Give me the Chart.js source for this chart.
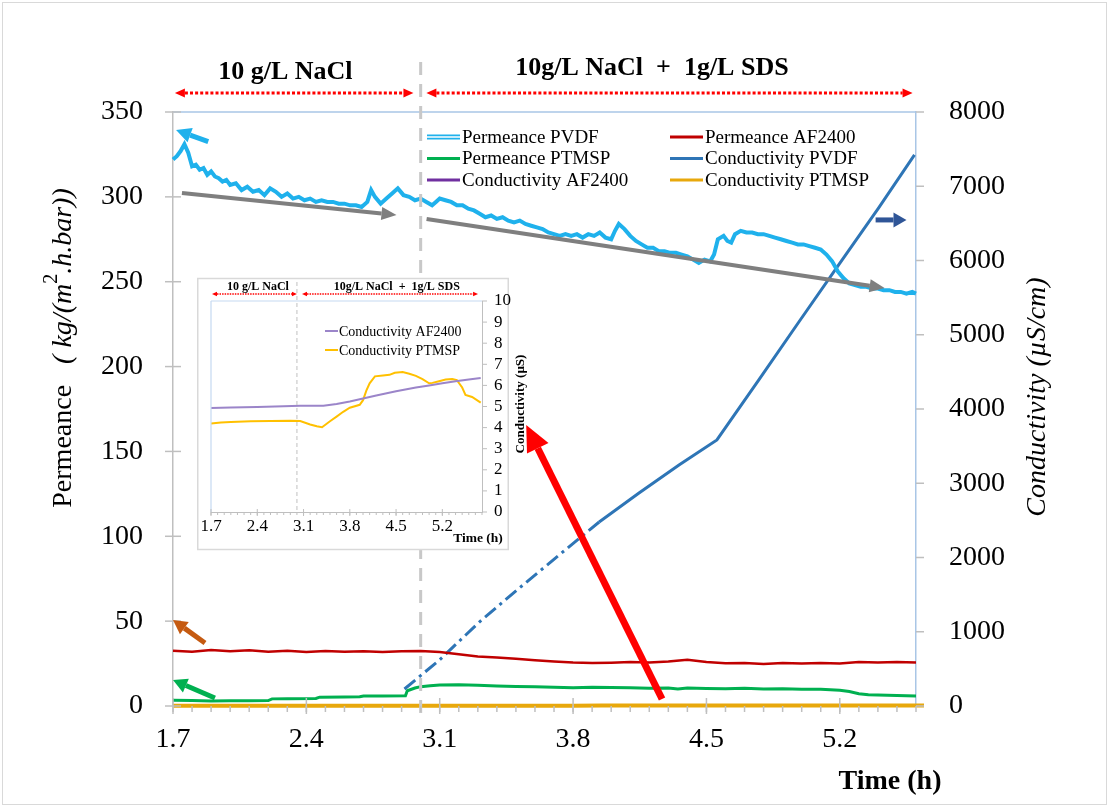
<!DOCTYPE html>
<html>
<head>
<meta charset="utf-8">
<script src="https://cdn.jsdelivr.net/npm/chart.js@4.4.1/dist/chart.umd.min.js"></script>
<style>
  html,body{margin:0;padding:0;background:#fff;}
  #wrap{position:relative;width:1109px;height:807px;}
  #main{position:absolute;left:0;top:0;}
  #inset{position:absolute;left:197px;top:276px;}
</style>
</head>
<body>
<div id="wrap">
  <canvas id="main" width="1109" height="807"></canvas>
  <canvas id="inset" width="340" height="280"></canvas>
</div>
<script>
// ---- data (time in h) ----
const xTicks = [1.7, 2.4, 3.1, 3.8, 4.5, 5.2];
const sdsStart = 3.0;          // SDS added to the feed
const dashUntil = 3.8;         // sparse logging of PVDF conductivity before this

const pvdfTime = [1.70,1.72,1.74,1.76,1.78,1.80,1.82,1.84,1.86,1.88,1.90,1.92,1.94,1.96,1.98,2.00,2.03,2.06,2.09,2.12,2.15,2.18,2.21,2.24,2.27,2.30,2.33,2.36,2.39,2.42,2.45,2.48,2.51,2.54,2.57,2.60,2.63,2.66,2.69,2.72,2.74,2.76,2.79,2.82,2.85,2.88,2.91,2.94,2.97,3.00,3.03,3.06,3.08,3.10,3.13,3.16,3.19,3.22,3.25,3.28,3.31,3.34,3.37,3.40,3.43,3.46,3.49,3.52,3.55,3.58,3.61,3.64,3.67,3.70,3.73,3.76,3.79,3.82,3.85,3.88,3.91,3.94,3.97,4.00,4.02,4.04,4.07,4.10,4.13,4.16,4.19,4.22,4.25,4.28,4.31,4.34,4.37,4.40,4.43,4.46,4.49,4.52,4.54,4.56,4.59,4.61,4.63,4.65,4.68,4.71,4.74,4.77,4.80,4.83,4.86,4.89,4.92,4.95,4.98,5.01,5.04,5.07,5.10,5.13,5.16,5.19,5.22,5.25,5.28,5.31,5.34,5.37,5.40,5.43,5.46,5.49,5.52,5.55,5.58,5.60];
const pvdfPerm = [322,324,327,331,326,318,319,316,317,313,315,312,311,309,310,307,308,304,306,303,304,301,305,303,300,302,299,300,298,299,297,298,297,297,296,296,295,295,294,297,304,300,296,299,302,305,301,300,298,299,297,295,297,299,298,297,295,295,293,292,290,288,289,287,288,286,285,286,284,283,282,281,279,278,277,278,277,278,276,278,277,279,276,275,280,284,281,277,274,272,270,270,268,268,267,267,266,265,263,261,263,262,266,275,277,274,273,278,280,279,279,278,278,277,276,275,274,273,272,272,271,270,269,266,262,256,252,249,248,247,247,246,246,245,245,244,244,243,244,243];

const af2400PermTime = [1.7,1.8,1.9,2.0,2.1,2.2,2.3,2.4,2.5,2.6,2.7,2.8,2.9,3.0,3.1,3.2,3.3,3.4,3.5,3.6,3.7,3.8,3.9,4.0,4.1,4.2,4.3,4.4,4.5,4.6,4.7,4.8,4.9,5.0,5.1,5.2,5.3,5.4,5.5,5.6];
const af2400Perm = [32.5,32.0,33.0,32.3,32.8,32.0,32.6,31.8,32.4,31.9,32.3,31.8,32.2,32.4,31.8,30.5,29.2,28.6,27.8,27.0,26.2,25.6,25.3,25.5,25.9,25.6,26.2,27.2,25.9,25.2,25.4,24.8,25.3,25.0,25.4,25.1,25.9,25.6,25.9,25.7];

const ptmspPermTime = [1.7,1.8,1.9,2.0,2.1,2.2,2.22,2.3,2.45,2.47,2.6,2.68,2.7,2.8,2.92,2.93,2.97,3.0,3.05,3.1,3.2,3.3,3.4,3.5,3.6,3.7,3.8,3.9,4.0,4.1,4.2,4.3,4.35,4.4,4.5,4.6,4.7,4.8,4.9,5.0,5.1,5.2,5.25,5.3,5.35,5.45,5.55,5.6];
const ptmspPerm = [3.4,3.2,3.0,3.1,3.1,3.2,4.2,4.3,4.4,5.2,5.3,5.4,5.9,5.9,6.0,9.0,10.6,11.4,12.0,12.4,12.5,12.2,11.8,11.5,11.4,11.0,10.8,11.0,10.9,10.7,10.5,10.6,10.0,10.6,10.3,10.2,10.4,10.0,10.1,9.9,9.8,9.3,8.5,7.2,6.6,6.3,6.0,5.9];

const pvdfCondTime = [2.915,3.099,3.308,3.518,3.727,3.937,4.146,4.356,4.555,4.775,4.985,5.194,5.404,5.592];
const pvdfCond = [229,620,1131,1589,2034,2478,2869,3246,3583,4391,5172,5940,6708,7422];

const af2400CondTime = [1.7,2.0,2.4,2.8,3.05,3.4,3.6,3.8,4.0,4.2,4.5,4.8,5.0,5.2,5.4,5.6,5.78];
const af2400Cond = [4.93,4.95,4.98,5.01,5.04,5.04,5.12,5.24,5.38,5.52,5.72,5.90,6.00,6.10,6.20,6.28,6.35];

const ptmspCondTime = [1.7,1.85,2.0,2.3,2.6,2.9,3.05,3.2,3.3,3.38,3.5,3.6,3.7,3.8,3.95,4.0,4.05,4.1,4.18,4.3,4.4,4.48,4.6,4.7,4.8,4.9,5.0,5.05,5.15,5.25,5.35,5.42,5.5,5.55,5.65,5.78];
const ptmspCond = [4.19,4.24,4.27,4.30,4.31,4.32,4.31,4.15,4.06,4.02,4.30,4.52,4.75,4.94,5.08,5.30,5.75,6.10,6.43,6.47,6.50,6.60,6.63,6.55,6.45,6.30,6.10,6.12,6.20,6.28,6.30,6.25,5.90,5.55,5.45,5.18];

// ---- helpers ----
const SERIF = '"Liberation Serif", "Times New Roman", serif';
const xy = (ts, vs) => ts.map((t, i) => ({ x: t, y: vs[i] }));

function arrow(ctx, x0, y0, x1, y1, color, width, headLen, headW) {
  const a = Math.atan2(y1 - y0, x1 - x0);
  const bx = x1 - headLen * Math.cos(a), by = y1 - headLen * Math.sin(a);
  ctx.save();
  ctx.strokeStyle = color; ctx.fillStyle = color; ctx.lineWidth = width;
  ctx.beginPath(); ctx.moveTo(x0, y0); ctx.lineTo(bx, by); ctx.stroke();
  ctx.beginPath();
  ctx.moveTo(x1, y1);
  ctx.lineTo(bx + headW / 2 * Math.sin(a), by - headW / 2 * Math.cos(a));
  ctx.lineTo(bx - headW / 2 * Math.sin(a), by + headW / 2 * Math.cos(a));
  ctx.closePath(); ctx.fill();
  ctx.restore();
}

// red dotted line with an arrow head at both ends
function dottedSpan(ctx, x0, x1, y, lw, head) {
  ctx.save();
  ctx.strokeStyle = '#ff0000'; ctx.fillStyle = '#ff0000'; ctx.lineWidth = lw;
  ctx.setLineDash([lw, lw * 0.7]);
  ctx.beginPath(); ctx.moveTo(x0 + head, y); ctx.lineTo(x1 - head, y); ctx.stroke();
  ctx.setLineDash([]);
  [[x0, 1], [x1, -1]].forEach(([x, d]) => {
    ctx.beginPath(); ctx.moveTo(x, y);
    ctx.lineTo(x + d * head, y - head * 0.45); ctx.lineTo(x + d * head, y + head * 0.45);
    ctx.closePath(); ctx.fill();
  });
  ctx.restore();
}

// rotated (bottom-to-top) text made of several runs
function vText(ctx, runs, x, yc) {
  ctx.save();
  let total = 0;
  runs.forEach(r => { ctx.font = r.font; r.w = ctx.measureText(r.text).width; total += r.w; });
  ctx.translate(x, yc); ctx.rotate(-Math.PI / 2);
  ctx.fillStyle = '#000'; ctx.textBaseline = 'alphabetic'; ctx.textAlign = 'left';
  let p = -total / 2;
  runs.forEach(r => { ctx.font = r.font; ctx.fillText(r.text, p, r.dy || 0); p += r.w; });
  ctx.restore();
}

function line(ctx, x0, y0, x1, y1, color, w, dash) {
  ctx.save(); ctx.strokeStyle = color; ctx.lineWidth = w;
  if (dash) ctx.setLineDash(dash);
  ctx.beginPath(); ctx.moveTo(x0, y0); ctx.lineTo(x1, y1); ctx.stroke();
  ctx.restore();
}

// annotation arrows, in data units of x / left y
const mainArrows = [
  { from: [1.885, 332.5], to: [1.716, 339.4], color: '#1fb1ec', w: 5, head: 15, hw: 15 },
  { from: [1.747, 302.3], to: [2.873, 289.3], color: '#7f7f7f', w: 4, head: 15, hw: 13 },
  { from: [3.031, 287.0], to: [5.435, 246.3], color: '#7f7f7f', w: 4, head: 15, hw: 13 },
  { from: [5.388, 286.4], to: [5.550, 286.4], color: '#2f5597', w: 5, head: 13, hw: 15 },
  { from: [1.868, 37.1], to: [1.700, 50.7], color: '#c55a11', w: 5, head: 14, hw: 15 },
  { from: [1.920, 4.7], to: [1.700, 15.3], color: '#00b050', w: 5, head: 14, hw: 15 },
  { from: [4.267, 4.1], to: [3.554, 165.6], color: '#ff0000', w: 7, head: 26, hw: 24 }
];

// ---- main chart decorations ----
const mainDecor = {
  id: 'mainDecor',
  afterDraw(chart) {
    const { ctx, chartArea: ca, scales: { x, y, y1 } } = chart;
    // outer frame
    ctx.save(); ctx.strokeStyle = '#d9d9d9'; ctx.lineWidth = 1;
    ctx.strokeRect(2.5, 2.5, 1104, 802); ctx.restore();

    // top border of the plot
    line(ctx, ca.left, ca.top, ca.right, ca.top, '#a9c6e6', 1.5);

    // SDS switch marker
    const xs = x.getPixelForValue(sdsStart);
    line(ctx, xs, ca.top - 50, xs, ca.bottom + 10, '#c8c8c8', 3, [13, 9]);

    // feed conditions above the plot
    dottedSpan(ctx, x.getPixelForValue(1.71), x.getPixelForValue(2.962), ca.top - 19, 3, 10);
    dottedSpan(ctx, x.getPixelForValue(3.03), x.getPixelForValue(5.582), ca.top - 19, 3, 10);
    ctx.save();
    ctx.fillStyle = '#000'; ctx.textAlign = 'center'; ctx.textBaseline = 'middle';
    ctx.font = 'bold 26px ' + SERIF;
    ctx.fillText('10 g/L NaCl', x.getPixelForValue(2.29), ca.top - 40);
    ctx.fillText('10g/L NaCl  +  1g/L SDS', x.getPixelForValue(4.214), ca.top - 44);
    ctx.restore();

    // tick marks
    const tc = '#bfbfbf';
    y.ticks.forEach(t => { const p = y.getPixelForValue(t.value); line(ctx, ca.left - 8, p, ca.left + 8, p, tc, 1.5); });
    y1.ticks.forEach(t => { const p = y1.getPixelForValue(t.value); line(ctx, ca.right, p, ca.right + 8, p, tc, 1.5); });
    for (let k = 17; k <= 56; k++) {
      const p = x.getPixelForValue(k / 10);
      line(ctx, p, ca.bottom, p, ca.bottom + 6, tc, 1.5);
    }
    xTicks.forEach(v => { const p = x.getPixelForValue(v); line(ctx, p, ca.bottom - 8, p, ca.bottom + 8, tc, 1.5); });

    // legend, two columns
    ctx.save();
    ctx.font = '19px ' + SERIF; ctx.textBaseline = 'middle'; ctx.fillStyle = '#000';
    chart.data.datasets.forEach((ds, i) => {
      const lx = ca.left + (i % 2 ? 497 : 254), ly = ca.top + 25 + Math.floor(i / 2) * 21.5;
      if (i === 0) {
        line(ctx, lx, ly, lx + 33, ly, ds.borderColor, 5);
        line(ctx, lx, ly, lx + 33, ly, '#ffffff', 1.5);
      } else {
        line(ctx, lx, ly, lx + 33, ly, ds.borderColor, 3);
      }
      ctx.fillText(ds.label, lx + 35, ly + 1);
    });
    ctx.restore();

    // axis titles
    const it = 'italic 28px ' + SERIF;
    vText(ctx, [
      { text: 'Permeance', font: '28px ' + SERIF },
      { text: '   ( kg/(m', font: it },
      { text: '2', font: '20px ' + SERIF, dy: -14 },
      { text: '.h.bar))', font: it }
    ], 71, 348);
    vText(ctx, [{ text: 'Conductivity (\u00b5S/cm)', font: it }], 1045, 397);
    ctx.save();
    ctx.font = 'bold 28px ' + SERIF; ctx.fillStyle = '#000'; ctx.textAlign = 'center';
    ctx.fillText('Time (h)', 890, 789);
    ctx.restore();

    // annotation arrows
    mainArrows.forEach(a => arrow(ctx,
      x.getPixelForValue(a.from[0]), y.getPixelForValue(a.from[1]),
      x.getPixelForValue(a.to[0]), y.getPixelForValue(a.to[1]),
      a.color, a.w, a.head, a.hw));
  }
};

const tickFont = { family: SERIF, size: 28 };

new Chart(document.getElementById('main'), {
  type: 'line',
  data: {
    datasets: [
      { label: 'Permeance PVDF', data: xy(pvdfTime, pvdfPerm), borderColor: '#1fb1ec', borderWidth: 4, yAxisID: 'y' },
      { label: 'Permeance AF2400', data: xy(af2400PermTime, af2400Perm), borderColor: '#c00000', borderWidth: 2.5, yAxisID: 'y' },
      { label: 'Permeance PTMSP', data: xy(ptmspPermTime, ptmspPerm), borderColor: '#00b050', borderWidth: 3, yAxisID: 'y' },
      { label: 'Conductivity PVDF', data: xy(pvdfCondTime, pvdfCond), borderColor: '#2e75b6', borderWidth: 3, yAxisID: 'y1',
        segment: { borderDash: c => c.p0.parsed.x < dashUntil ? [14, 5, 3, 5] : undefined } },
      { label: 'Conductivity AF2400', data: xy(af2400CondTime, af2400Cond), borderColor: '#7030a0', borderWidth: 2.5, yAxisID: 'y1' },
      { label: 'Conductivity PTMSP', data: xy(ptmspCondTime, ptmspCond), borderColor: '#e8a80c', borderWidth: 4, yAxisID: 'y1', order: -1 }
    ]
  },
  options: {
    responsive: false,
    animation: false,
    layout: { padding: { top: 112 } },
    elements: { point: { radius: 0 }, line: { tension: 0 } },
    datasets: { line: { clip: 8 } },
    scales: {
      x: {
        type: 'linear', min: 1.7, max: 5.6,
        afterFit: s => { s.height = 101; },
        afterBuildTicks: s => { s.ticks = xTicks.map(v => ({ value: v })); },
        grid: { display: false },
        border: { color: '#bfbfbf', width: 1.5 },
        ticks: { padding: 9, color: '#000', font: tickFont, maxRotation: 0, autoSkip: false,
                 callback: v => Number(v).toFixed(1) }
      },
      y: {
        position: 'left', min: 0, max: 350,
        afterFit: s => { s.width = 173; },
        grid: { display: false },
        border: { color: '#bfbfbf', width: 1.5 },
        ticks: { stepSize: 50, padding: 22, color: '#000', font: tickFont, autoSkip: false }
      },
      y1: {
        position: 'right', min: 0, max: 8000,
        afterFit: s => { s.width = 193; },
        grid: { display: false },
        border: { color: '#a9c6e6', width: 1.5 },
        ticks: { stepSize: 1000, padding: 25, color: '#000', font: tickFont, autoSkip: false, callback: v => String(v) }
      }
    },
    plugins: { legend: { display: false }, tooltip: { enabled: false } }
  },
  plugins: [mainDecor]
});

// ---- inset: low conductivity of the dense membranes ----
const insetDecor = {
  id: 'insetDecor',
  beforeDraw(chart) {
    const ctx = chart.ctx;
    ctx.save();
    ctx.fillStyle = '#fff'; ctx.fillRect(0, 2, 311, 272);
    ctx.strokeStyle = '#d9d9d9'; ctx.lineWidth = 1.5; ctx.strokeRect(0.75, 2.5, 310.5, 271);
    ctx.restore();
  },
  afterDraw(chart) {
    const { ctx, chartArea: ca, scales: { x, y } } = chart;
    line(ctx, ca.left, ca.top, ca.right, ca.top, '#c5d9f1', 1.2);
    line(ctx, ca.left, ca.top, ca.left, ca.bottom, '#c5d9f1', 1.2);

    const xs = x.getPixelForValue(sdsStart);
    line(ctx, xs, 6, xs, ca.bottom, '#c0c0c0', 1, [4, 3]);

    dottedSpan(ctx, x.getPixelForValue(1.715), x.getPixelForValue(3.0), 18, 1.5, 5);
    dottedSpan(ctx, x.getPixelForValue(3.077), x.getPixelForValue(5.74), 18, 1.5, 5);
    ctx.save();
    ctx.fillStyle = '#000'; ctx.textAlign = 'center'; ctx.textBaseline = 'middle';
    ctx.font = 'bold 12px ' + SERIF;
    ctx.fillText('10 g/L NaCl', x.getPixelForValue(2.41), 11);
    ctx.fillText('10g/L NaCl  +  1g/L SDS', x.getPixelForValue(4.51), 11);
    ctx.restore();

    const tc = '#bfbfbf';
    y.ticks.forEach(t => { const p = y.getPixelForValue(t.value); line(ctx, ca.right, p, ca.right + 5, p, tc, 1); });
    for (let k = 17; k <= 58; k++) {
      const p = x.getPixelForValue(k / 10);
      line(ctx, p, ca.bottom, p, ca.bottom + 3, tc, 1);
    }
    xTicks.forEach(v => { const p = x.getPixelForValue(v); line(ctx, p, ca.bottom - 3, p, ca.bottom + 4, tc, 1); });

    ctx.save();
    ctx.font = '14px ' + SERIF; ctx.textBaseline = 'middle'; ctx.fillStyle = '#000';
    chart.data.datasets.forEach((ds, i) => {
      const ly = 55 + i * 19;
      line(ctx, 128, ly, 141, ly, ds.borderColor, 2);
      ctx.fillText(ds.label, 142, ly + 1);
    });
    ctx.font = 'bold 13.5px ' + SERIF; ctx.textAlign = 'center';
    ctx.fillText('Time (h)', 281, 263);
    ctx.restore();
    vText(ctx, [{ text: 'Conductivity (\u00b5S)', font: 'bold 13px ' + SERIF }], 327, 128);
  }
};

const insetFont = { family: SERIF, size: 17 };

new Chart(document.getElementById('inset'), {
  type: 'line',
  data: {
    datasets: [
      { label: 'Conductivity AF2400', data: xy(af2400CondTime, af2400Cond), borderColor: '#9b85c9', borderWidth: 2 },
      { label: 'Conductivity PTMSP', data: xy(ptmspCondTime, ptmspCond), borderColor: '#ffc000', borderWidth: 2 }
    ]
  },
  options: {
    responsive: false,
    animation: false,
    layout: { padding: { top: 25, left: 14 } },
    elements: { point: { radius: 0 }, line: { tension: 0 } },
    scales: {
      x: {
        type: 'linear', min: 1.7, max: 5.8,
        afterFit: s => { s.height = 44; },
        afterBuildTicks: s => { s.ticks = xTicks.map(v => ({ value: v })); },
        grid: { display: false },
        border: { color: '#bfbfbf', width: 1 },
        ticks: { padding: -4, color: '#000', font: insetFont, maxRotation: 0, autoSkip: false,
                 callback: v => Number(v).toFixed(1) }
      },
      y: {
        position: 'right', min: 0, max: 10,
        afterFit: s => { s.width = 55; },
        grid: { display: false },
        border: { color: '#bfbfbf', width: 1 },
        ticks: { stepSize: 1, padding: 4, color: '#000', font: insetFont, autoSkip: false }
      }
    },
    plugins: { legend: { display: false }, tooltip: { enabled: false } }
  },
  plugins: [insetDecor]
});
</script>
</body>
</html>
